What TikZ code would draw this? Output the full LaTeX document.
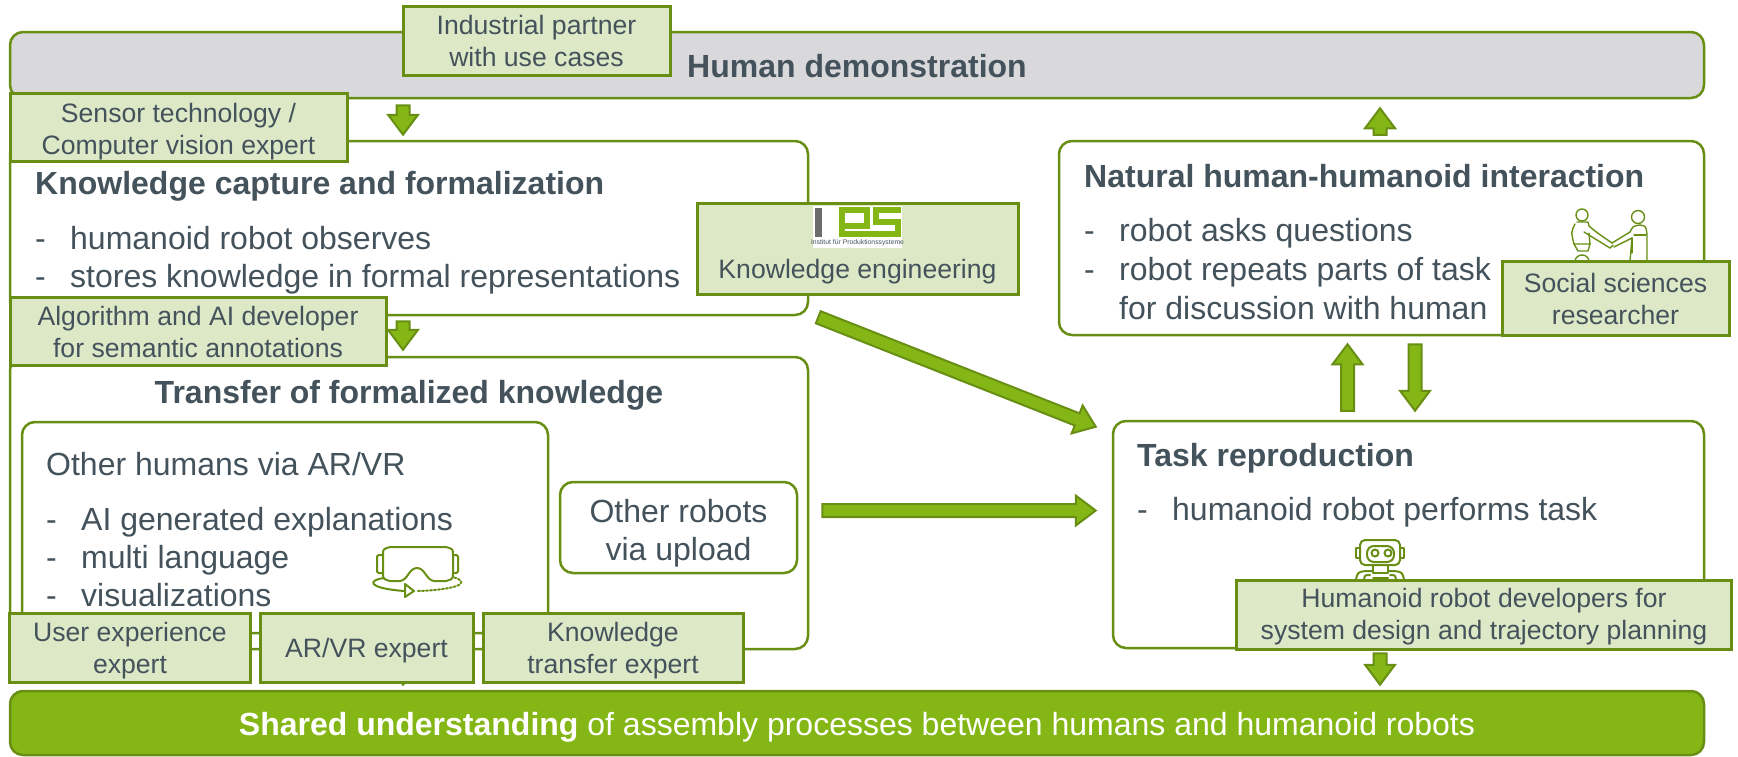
\documentclass[tikz,border=0pt]{standalone}
\usepackage{xcolor}
\usepackage{fontspec}
\setmainfont{Liberation Sans}
\usetikzlibrary{calc}
\definecolor{linegreen}{HTML}{688F14}
\definecolor{lightgreen}{HTML}{DDE9C6}
\definecolor{brightgreen}{HTML}{84B616}
\definecolor{demogray}{HTML}{D9D9DC}
\definecolor{slatetext}{HTML}{44525C}
\tikzset{
  stagebox/.style={draw=linegreen, line width=2.5pt, fill=white, rounded corners=13pt, inner sep=0pt},
  rolebox/.style={draw=linegreen, line width=3pt, fill=lightgreen, inner sep=0pt},
  roletext/.style={inner sep=0pt, align=center, text=slatetext, font=\fontsize{26.6}{32}\selectfont},
  headtext/.style={anchor=west, inner sep=0pt, text=slatetext, font=\fontsize{32}{38}\selectfont\bfseries},
  listtext/.style={anchor=north west, align=left, inner sep=0pt, text=slatetext, font=\fontsize{32}{38}\selectfont},
  iconline/.style={draw=linegreen, line width=2pt, line join=round, line cap=round},
  blockarrow/.style={draw=linegreen, fill=brightgreen, line width=2pt, line join=miter}
}
\newcommand{\dashitem}[1]{\makebox[35pt][l]{-}#1}
% from, to
\newcommand{\blockarrow}[2]{
  \coordinate (bs) at #1;
  \coordinate (be) at #2;
  \coordinate (bh) at ($(be)!20pt!(bs)$);
  \filldraw[blockarrow] ($(bs)!6.5pt!90:(be)$) -- ($(bh)!6.5pt!90:(be)$) -- ($(bh)!15pt!90:(be)$) -- (be)
      -- ($(bh)!15pt!-90:(be)$) -- ($(bh)!6.5pt!-90:(be)$) -- ($(bs)!6.5pt!-90:(be)$) -- cycle;
}
\begin{document}
\begin{tikzpicture}[x=1pt, y=-1pt]
  \useasboundingbox (0,0) rectangle (1738,756);

  % main stages
  \node[stagebox, fill=demogray, minimum width=1694pt, minimum height=66pt] (demo) at (857,65) {};
  \node[stagebox, minimum width=798pt, minimum height=174pt] (capture) at (409,228) {};
  \node[stagebox, minimum width=798pt, minimum height=292pt] (transfer) at (409,503) {};
  \node[stagebox, minimum width=526pt, minimum height=211pt] (humans) at (285,527.5) {};
  \node[stagebox, minimum width=237pt, minimum height=91pt] (robots) at (678.5,527.5) {};
  \node[stagebox, minimum width=645pt, minimum height=194pt] (natural) at (1381.5,238) {};
  \node[stagebox, minimum width=591pt, minimum height=227pt] (task) at (1408.5,534.5) {};
  \node[stagebox, fill=brightgreen, minimum width=1694pt, minimum height=64pt] (shared) at (857,723) {};

  \node[headtext, anchor=center] (demotitle) at (857,66) {Human demonstration};
  \node[inner sep=0pt, text=white, font=\fontsize{32}{38}\selectfont] (sharedtext) at ([yshift=-4.4pt]shared) {\textbf{Shared understanding} of assembly processes between humans and humanoid robots};

  % texts in the stages
  \node[headtext] (capturetitle) at (35,186) {Knowledge capture and formalization};
  \node[listtext] (capturelist) at (35,226) {\dashitem{humanoid robot observes}\\\dashitem{stores knowledge in formal representations}};
  \node[headtext, anchor=center] (transfertitle) at (409,395) {Transfer of formalized knowledge};
  \node[listtext] (humanstitle) at (46,452) {Other humans via AR/VR};
  \node[listtext] (humanslist) at (46,507) {\dashitem{AI generated explanations}\\\dashitem{multi language}\\\dashitem{visualizations}};
  \node[listtext, align=center, anchor=center] (robotstext) at ([yshift=-5.5pt]robots) {Other robots\\via upload};
  \node[headtext] (naturaltitle) at (1084,176) {Natural human-humanoid interaction};
  \node[listtext] (naturallist) at (1084,218.5) {\dashitem{robot asks questions}\\[1pt]\dashitem{robot repeats parts of task}\\[1pt]\hspace*{35pt}for discussion with human};
  \node[headtext] (tasktitle) at (1137,458) {Task reproduction};
  \node[listtext] (tasklist) at (1137,497.5) {\dashitem{humanoid robot performs task}};

  % handshake icon
  \begin{scope}[iconline, line width=1.4pt, fill=none]
    \draw (1582,215) circle (6);
    \draw (1638,217) circle (6.5);
    \draw (1577,222) -- (1588,222) -- (1589,226) .. controls (1596,232) .. (1612,243);
    \draw (1584,232) -- (1610,248) -- (1613,245);
    \draw (1575,224) .. controls (1571,232) .. (1574,244) -- (1590,244) -- (1589,233);
    \draw (1574,244) -- (1578,251) -- (1588,251) -- (1590,244);
    \draw (1575,261) .. controls (1576,253) and (1588,253) .. (1589,261);
    \draw (1612,243) -- (1630,232) .. controls (1633,226) .. (1640,225) .. controls (1646,226) .. (1647,235) -- (1647,261);
    \draw (1614,247) -- (1632,238) -- (1630,261);
    \draw (1632,238) -- (1632,253);
    \draw (1634,235) -- (1646,235);
  \end{scope}

  % robot icon
  \begin{scope}[iconline]
    \draw[rounded corners=5pt] (1360,540) rectangle (1400,565);
    \draw[rounded corners=7pt] (1367,546) rectangle (1394,562);
    \draw (1375,553) circle (3.5);
    \draw (1388,553) circle (3.5);
    \draw (1374,546) -- (1386,546);
    \draw (1360,548) -- (1356,548) -- (1356,558) -- (1360,558);
    \draw (1400,548) -- (1404,548) -- (1404,558) -- (1400,558);
    \draw (1373,565) -- (1373,573) -- (1388,573) -- (1388,565);
    \draw (1356,579) .. controls (1358,572) .. (1366,571) -- (1373,571);
    \draw (1404,579) .. controls (1402,572) .. (1394,571) -- (1388,571);
    \draw (1364,579) .. controls (1365,575) .. (1370,575);
    \draw (1396,579) .. controls (1395,575) .. (1390,575);
    \draw (1373,578) -- (1388,578);
  \end{scope}

  % vr glasses icon
  \begin{scope}[iconline]
    \draw (383,555) .. controls (383,549) .. (390,547) -- (446,547) .. controls (453,549) .. (453,555) -- (453,573) .. controls (453,579) .. (446,581)
        -- (434,581) .. controls (426,580) and (425,568) .. (417,568) .. controls (409,568) and (408,580) .. (400,581) -- (390,581) .. controls (383,579) .. (383,573) -- cycle;
    \draw[rounded corners=2pt] (383,555) -- (377,555) -- (377,573) -- (383,573);
    \draw[rounded corners=2pt] (453,555) -- (458,555) -- (458,573) -- (453,573);
    \draw (384,578) .. controls (368,580) and (366,588) .. (404,591);
    \draw (405,584) -- (414,591) -- (405,597) -- cycle;
    \draw[dotted] (418,591) .. controls (450,590) and (475,584) .. (453,577);
  \end{scope}

  % institute logo and role boxes
  \node[rolebox, minimum width=321pt, minimum height=91pt] (engineering) at (857.5,248.5) {};
  \node[roletext] (engineeringtext) at ([yshift=-23.5pt]engineering) {Knowledge engineering};
  \fill[white] (813,206) rectangle (902,248);
  \fill[gray!85!black] (815,207.5) rectangle (822,237);
  \draw[brightgreen, line width=6pt] (842,237) -- (842,210) -- (867,210) -- (867,226) -- (845,226);
  \draw[brightgreen, line width=6pt] (901,210) -- (876,210) -- (876,222) -- (898,222) -- (898,234) -- (845,234);
  \node[inner sep=0pt, text=slatetext, font=\fontsize{6.8}{8}\selectfont] (logotext) at (857.5,243) {Institut für Produktionssysteme};

  \node[rolebox, minimum width=267pt, minimum height=69pt] (partner) at (536.5,40.5) {};
  \node[roletext] (partnertext) at ([yshift=-.5pt]partner) {Industrial partner\\with use cases};
  \node[rolebox, minimum width=337pt, minimum height=68pt] (sensor) at (178.5,127) {};
  \node[roletext] (sensortext) at ([yshift=-4.4pt]sensor) {Sensor technology /\\Computer vision expert};
  \node[rolebox, minimum width=376pt, minimum height=68pt] (algorithm) at (198,331) {};
  \node[roletext] (algorithmtext) at ([yshift=-1pt]algorithm) {Algorithm and AI developer\\for semantic annotations};
  \node[rolebox, minimum width=227pt, minimum height=74pt] (social) at (1615.5,298) {};
  \node[roletext] (socialtext) at ([yshift=-1pt]social) {Social sciences\\researcher};
  \node[rolebox, minimum width=495pt, minimum height=69pt] (developers) at (1484,614.5) {};
  \node[roletext] (developerstext) at ([yshift=-2pt]developers) {Humanoid robot developers for\\system design and trajectory planning};

  % hidden arrow under the expert boxes
  \blockarrow{([shift={(-405,6)}]transfer.south east)}{([shift={(-454,-5)}]shared.north)}

  \node[rolebox, minimum width=241pt, minimum height=69pt] (ux) at (130,647.5) {};
  \node[roletext] (uxtext) at ([yshift=-3.3pt]ux) {User experience\\expert};
  \node[rolebox, minimum width=213pt, minimum height=69pt] (arvr) at (366.5,647.5) {};
  \node[roletext] (arvrtext) at ([yshift=-3.3pt]arvr) {AR/VR expert};
  \node[rolebox, minimum width=260pt, minimum height=69pt] (knowledge) at (613,647.5) {};
  \node[roletext] (knowledgetext) at ([yshift=-3.3pt]knowledge) {Knowledge\\transfer expert};

  % arrows between the stages
  \blockarrow{([shift={(-454,6)}]demo.south)}{([shift={(-6,-5)}]capture.north)}
  \blockarrow{([shift={(-6,5)}]capture.south)}{([shift={(-6,-6)}]transfer.north)}
  \blockarrow{([shift={(-1.5,-5)}]natural.north)}{([shift={(523,9)}]demo.south)}
  \blockarrow{([shift={(-61,-9)}]task.north)}{([shift={(-34,8)}]natural.south)}
  \blockarrow{([shift={(33.5,8)}]natural.south)}{([shift={(6.5,-9)}]task.north)}
  \blockarrow{([shift={(-28.5,4)}]task.south)}{([shift={(523,-5)}]shared.north)}
  \blockarrow{([shift={(9,1)}]capture.south east)}{([shift={(-16,7)}]task.north west)}
  \blockarrow{([shift={(13,7.5)}]transfer.east)}{([shift={(-16,-24)}]task.west)}
\end{tikzpicture}
\end{document}
